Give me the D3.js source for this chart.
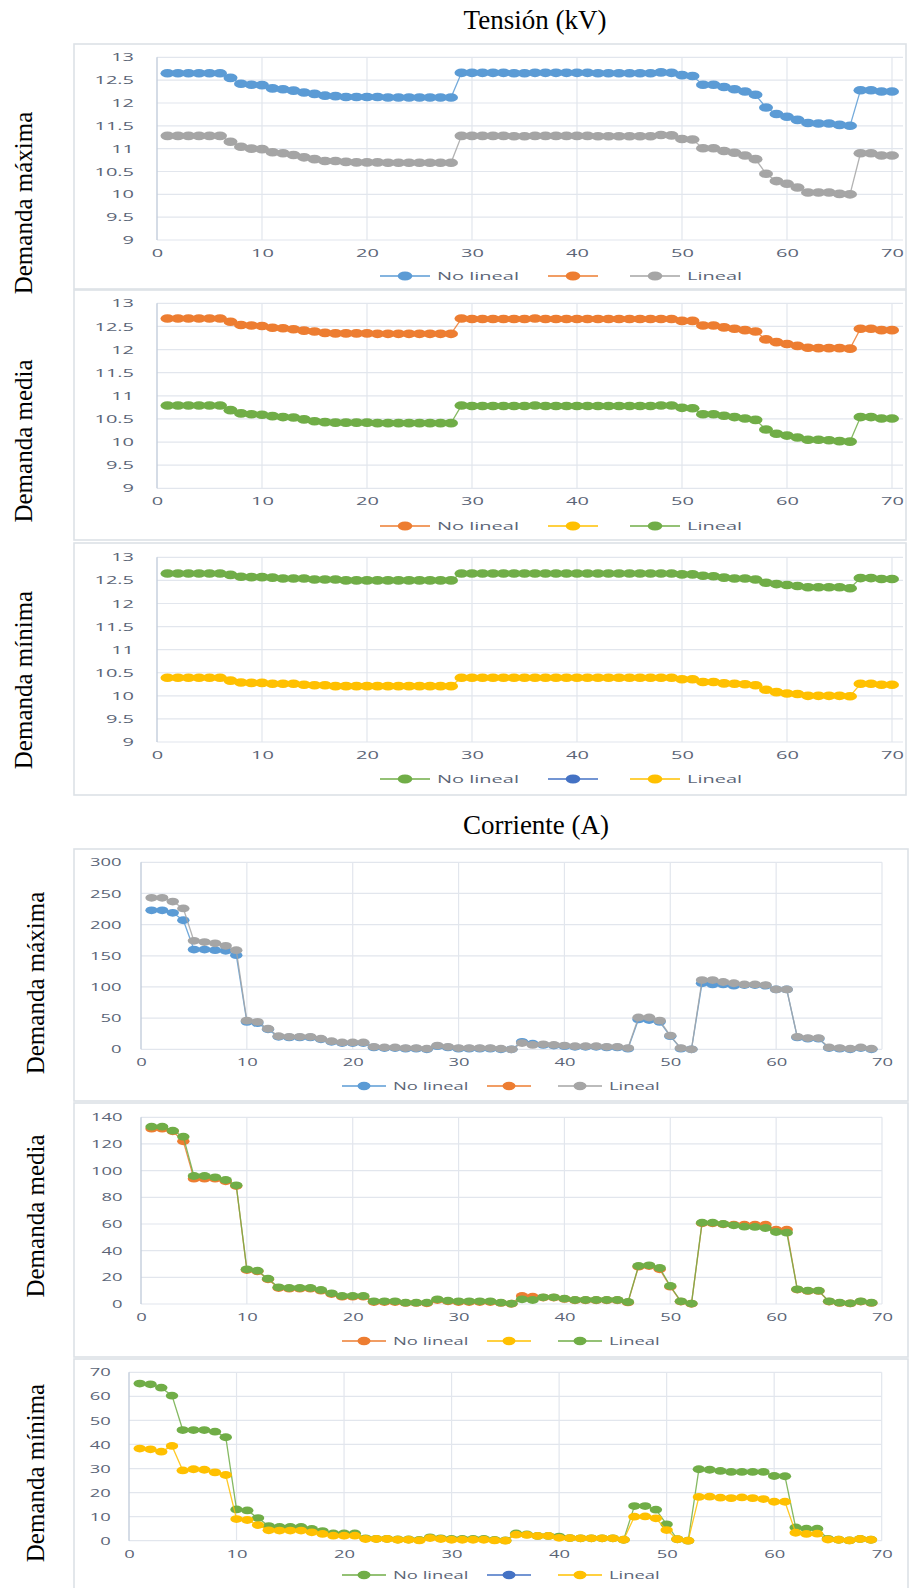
<!DOCTYPE html>
<html>
<head>
<meta charset="utf-8">
<script src="https://cdn.jsdelivr.net/npm/d3@7"></script>
<style>
  body { margin: 0; background: #ffffff; }
  svg { display: block; }
</style>
</head>
<body>
<svg id="chart" width="909" height="1588"></svg>
<script>
// ---------- Data: voltage (kV) per bus, 70 buses ----------
const tensionMaxNoLineal = [12.65,12.65,12.65,12.65,12.65,12.65,12.55,12.42,12.40,12.39,12.32,12.30,12.27,12.23,12.20,12.16,12.15,12.13,12.13,12.13,12.13,12.12,12.12,12.12,12.12,12.12,12.12,12.12,
  12.66,12.66,12.66,12.66,12.66,12.65,12.65,12.66,12.66,12.66,12.66,12.66,12.66,12.65,12.65,12.65,12.65,12.65,12.65,12.67,12.66,12.61,12.59,12.40,12.40,12.35,12.30,12.25,12.18,11.90,11.76,11.70,11.63,11.56,11.55,11.55,11.52,11.50,12.28,12.28,12.25,12.25];
const tensionMaxLineal = [11.28,11.28,11.28,11.28,11.28,11.28,11.15,11.04,11.00,10.99,10.92,10.90,10.86,10.81,10.77,10.73,10.73,10.71,10.70,10.70,10.70,10.69,10.69,10.69,10.69,10.69,10.69,10.69,
  11.28,11.28,11.28,11.28,11.28,11.27,11.27,11.28,11.28,11.28,11.28,11.28,11.28,11.27,11.27,11.27,11.27,11.27,11.27,11.30,11.29,11.21,11.20,11.01,11.01,10.95,10.91,10.85,10.77,10.45,10.29,10.23,10.15,10.04,10.04,10.04,10.01,10.00,10.90,10.90,10.85,10.85];

const tensionMedNoLineal = [12.67,12.67,12.67,12.67,12.67,12.67,12.60,12.53,12.52,12.51,12.47,12.46,12.44,12.41,12.39,12.36,12.35,12.35,12.35,12.35,12.34,12.34,12.34,12.34,12.34,12.34,12.34,12.34,
  12.67,12.66,12.66,12.66,12.66,12.66,12.66,12.67,12.66,12.66,12.66,12.66,12.66,12.66,12.66,12.66,12.66,12.66,12.66,12.66,12.66,12.62,12.62,12.52,12.52,12.48,12.45,12.42,12.39,12.22,12.16,12.12,12.08,12.04,12.03,12.03,12.03,12.02,12.45,12.45,12.42,12.42];
const tensionMedLineal = [10.79,10.79,10.79,10.79,10.79,10.79,10.69,10.62,10.60,10.59,10.56,10.54,10.53,10.49,10.45,10.43,10.42,10.42,10.42,10.42,10.41,10.41,10.41,10.41,10.41,10.41,10.41,10.41,
  10.79,10.78,10.78,10.78,10.78,10.78,10.78,10.79,10.78,10.78,10.78,10.78,10.78,10.78,10.78,10.78,10.78,10.78,10.78,10.79,10.79,10.74,10.73,10.60,10.60,10.57,10.54,10.51,10.48,10.27,10.18,10.14,10.10,10.05,10.05,10.04,10.02,10.01,10.54,10.54,10.51,10.51];

const tensionMinNoLineal = [12.65,12.65,12.65,12.65,12.65,12.65,12.62,12.58,12.57,12.57,12.56,12.54,12.54,12.54,12.52,12.52,12.52,12.50,12.50,12.50,12.50,12.50,12.50,12.50,12.50,12.50,12.50,12.50,
  12.65,12.65,12.65,12.65,12.65,12.65,12.65,12.65,12.65,12.65,12.65,12.65,12.65,12.65,12.65,12.65,12.65,12.65,12.65,12.65,12.65,12.63,12.63,12.60,12.59,12.56,12.54,12.54,12.52,12.45,12.42,12.40,12.38,12.35,12.35,12.35,12.35,12.33,12.55,12.55,12.53,12.53];
const tensionMinLineal = [10.39,10.39,10.39,10.39,10.39,10.39,10.33,10.29,10.28,10.28,10.26,10.26,10.26,10.24,10.23,10.23,10.21,10.21,10.21,10.21,10.21,10.21,10.21,10.21,10.21,10.21,10.21,10.21,
  10.39,10.39,10.39,10.39,10.39,10.39,10.39,10.39,10.39,10.39,10.39,10.39,10.39,10.39,10.39,10.39,10.39,10.39,10.39,10.39,10.39,10.36,10.36,10.30,10.30,10.27,10.26,10.25,10.23,10.13,10.08,10.05,10.04,10.00,10.00,10.00,10.00,9.99,10.26,10.26,10.24,10.24];

// ---------- Data: current (A) per branch, 69 branches ----------
const corrMaxNoLineal = [223,223,219,207,160,160,159,158,151, 44,42,32,20,19,19,19,16,12,10,10,10, 3,2,2,1,1,0,5,3,1,1,1,1,
  0,0,12,9,7,6,5,4,4,4,3,3,1, 48,47,44,21,1,0, 106,104,104,102,103,103,102,96,96, 19,17,17,2,1,0,2,0];
const corrMaxLineal = [243,243,237,226,174,172,170,166,159, 46,44,33,21,20,20,20,17,13,11,11,11, 4,3,3,2,2,1,6,4,2,2,2,2,
  1,0,10,7,8,7,6,5,5,5,4,4,2, 51,51,46,22,2,0, 111,111,108,106,104,104,103,96,96, 20,18,18,3,2,1,3,1];

const corrMedNoLineal = [131.5,131.5,129.5,122,94,94,94,92,88.5, 25.5,24.5,18.5,12,11.5,11.5,11.5,10,7.5,5.5,5.5,5.5, 1.5,1.5,1.5,0.8,0.8,0.5,3,2,1.5,1.5,1.5,1.5,
  0.8,0.2,6,5.5,4.8,4.8,3.8,2.8,2.8,2.8,2.8,2.8,1.2, 28,28.5,26,13,1.8,0.2, 60.5,60.5,59.8,59.5,59.5,59.5,59.5,55.7,55.7, 10.8,9.8,9.8,1.8,0.8,0.4,1.8,0.8];
const corrMedLineal = [133,133,130,125.5,96,96,95,93,89, 26,25,19,12.5,12,12,12,10.5,8,6,6,6, 2,2,2,1,1,1,3.5,2.5,2,2,2,2,
  1,0.3,3.5,3,5,5,4,3,3,3,3,3,1.5, 28.5,29,27,13.5,2,0.3, 61,61,60,59,58,57.8,57,54,53.5, 11,10,10,2,1,0.5,2,1];

const corrMinNoLineal = [65.3,65,63.6,60.3,46,46,46,45.3,43, 13,12.6,9.4,6.1,5.7,5.7,5.7,4.9,4,3,3,3, 1,0.8,0.8,0.5,0.5,0.3,1.4,1,0.7,0.7,0.7,0.7,
  0.3,0.1,3,2.6,2,2,1.7,1.1,1,1,1,1,0.4, 14.4,14.4,12.9,6.8,0.6,0, 29.7,29.5,29,28.6,28.6,28.6,28.6,26.9,26.8, 5.5,5,5,0.8,0.4,0.1,0.7,0.4];
const corrMinLineal = [38.3,38,37,39.4,29.2,29.7,29.5,28.4,27.3, 9,8.6,6.5,4.3,4.2,4.2,4.2,3.5,2.8,2.1,2.1,2.1, 0.7,0.7,0.7,0.4,0.4,0.1,1.1,0.7,0.4,0.4,0.4,0.4,
  0.1,0,2.5,2.4,2,2,1.2,1.1,1,1,1,1,0.4, 10,10.1,9.3,4.4,0.6,0, 18.2,18.3,17.9,17.7,18,17.7,17.3,16.2,16.2, 3.3,2.8,2.9,0.5,0.4,0.1,0.7,0.4];

// ---------- Tick labels ----------
const xTicks = [0,10,20,30,40,50,60,70];
const tensionTicks = [9,9.5,10,10.5,11,11.5,12,12.5,13];
const corrMaxTicks = [0,50,100,150,200,250,300];
const corrMedTicks = [0,20,40,60,80,100,120,140];
const corrMinTicks = [0,10,20,30,40,50,60,70];

// ---------- Series labels ----------
const labelNoLineal = "No lineal";
const labelLineal = "Lineal";

// ---------- Palette ----------
const C = {
  blue: "#5b9bd5", orange: "#ed7d31", gray: "#a5a5a5",
  yellow: "#ffc000", green: "#70ad47", navy: "#4472c4"
};
const tickColor = "#5b6577";
const gridColor = "#e2e6ed";

const svg = d3.select("#chart");

function drawPanel(p) {
  const g = svg.append("g");

  // panel frame
  g.append("rect")
    .attr("x", p.box[0]).attr("y", p.box[1])
    .attr("width", p.box[2] - p.box[0]).attr("height", p.box[3] - p.box[1])
    .attr("fill", "none").attr("stroke", "#dde1e7").attr("stroke-width", 1.6);

  const x = d3.scaleLinear().domain([0, 70]).range(p.xr);
  const y = d3.scaleLinear().domain(p.yd).range(p.yr);

  // gridlines
  g.selectAll(null).data(p.yTicks).join("line")
    .attr("x1", x(0)).attr("x2", p.gridRight)
    .attr("y1", d => y(d)).attr("y2", d => y(d))
    .attr("stroke", gridColor).attr("stroke-width", 1.2);
  g.selectAll(null).data(xTicks.filter(d => d > 0)).join("line")
    .attr("x1", d => x(d)).attr("x2", d => x(d))
    .attr("y1", y(p.yd[1])).attr("y2", y(p.yd[0]))
    .attr("stroke", gridColor).attr("stroke-width", 1.2);
  // value axis line
  g.append("line")
    .attr("x1", x(0)).attr("x2", x(0))
    .attr("y1", y(p.yd[1])).attr("y2", y(p.yd[0]))
    .attr("stroke", "#c3cddc").attr("stroke-width", 1.4);

  // value axis labels
  const ya = g.append("g").attr("transform", `translate(${x(0)},0)`)
    .call(d3.axisLeft(y).tickValues(p.yTicks).tickSize(0).tickPadding(0).tickFormat(d3.format("")));
  ya.select(".domain").remove();
  ya.selectAll("text")
    .attr("x", -p.yGap / p.sx).attr("dy", "0.36em")
    .attr("transform", `scale(${p.sx},1)`)
    .attr("fill", tickColor)
    .style("font-family", "'Open Sans', sans-serif").style("font-size", "10px");

  // category axis labels
  const xa = g.append("g").attr("transform", `translate(0,${y(p.yd[0])})`)
    .call(d3.axisBottom(x).tickValues(xTicks).tickSize(0).tickPadding(0).tickFormat(d3.format("")));
  xa.select(".domain").remove();
  xa.selectAll("text")
    .attr("y", p.xGap).attr("dy", "0.71em")
    .attr("transform", `scale(${p.sx},1)`)
    .attr("fill", tickColor)
    .style("font-family", "'Open Sans', sans-serif").style("font-size", "10px");

  // series: thin connecting line + elliptical markers
  const line = d3.line().x((d, i) => x(i + 1)).y(d => y(d));
  p.series.forEach(s => {
    if (!s.values) return;
    const sg = g.append("g");
    sg.append("path").datum(s.values)
      .attr("d", line).attr("fill", "none")
      .attr("stroke", s.color).attr("stroke-width", 1.3).attr("opacity", 0.85);
    sg.selectAll(null).data(s.values).join("ellipse")
      .attr("cx", (d, i) => x(i + 1)).attr("cy", d => y(d))
      .attr("rx", p.mrx).attr("ry", p.mry)
      .attr("fill", s.color);
  });

  // legend
  const lg = g.append("g").attr("transform", `translate(0,${p.legY})`);
  p.series.forEach((s, i) => {
    const x0 = p.legX[i];
    lg.append("line").attr("x1", x0).attr("x2", x0 + p.legLen)
      .attr("y1", 0).attr("y2", 0)
      .attr("stroke", s.color).attr("stroke-width", 1.3);
    lg.append("ellipse").attr("cx", x0 + p.legLen / 2).attr("cy", 0)
      .attr("rx", p.mrx + 0.3).attr("ry", p.mry + 0.3).attr("fill", s.color);
    if (s.label) {
      lg.append("text")
        .attr("transform", `translate(${x0 + p.legLen + 7},0) scale(${p.sx},1)`)
        .attr("dy", "0.36em")
        .attr("fill", tickColor)
        .style("font-family", "'Open Sans', sans-serif").style("font-size", "10px")
        .text(s.label);
    }
  });
}

// ---------- Voltage panels ----------
const tensionCommon = {
  xr: [157, 892], yd: [9, 13], yTicks: tensionTicks, gridRight: 903,
  yGap: 23, xGap: 10, sx: 2.0, mrx: 7, mry: 4.3,
  legX: [380, 548, 630], legLen: 50
};
drawPanel(Object.assign({}, tensionCommon, {
  box: [74, 44, 906, 289], yr: [240, 57.3], legY: 276,
  series: [
    { values: tensionMaxNoLineal, color: C.blue, label: labelNoLineal },
    { values: null, color: C.orange, label: "" },
    { values: tensionMaxLineal, color: C.gray, label: labelLineal }
  ]
}));
drawPanel(Object.assign({}, tensionCommon, {
  box: [74, 290, 906, 540], yr: [488.3, 303.3], legY: 526,
  series: [
    { values: tensionMedNoLineal, color: C.orange, label: labelNoLineal },
    { values: null, color: C.yellow, label: "" },
    { values: tensionMedLineal, color: C.green, label: labelLineal }
  ]
}));
drawPanel(Object.assign({}, tensionCommon, {
  box: [74, 543, 906, 795], yr: [742, 557.3], legY: 779,
  series: [
    { values: tensionMinNoLineal, color: C.green, label: labelNoLineal },
    { values: null, color: C.navy, label: "" },
    { values: tensionMinLineal, color: C.yellow, label: labelLineal }
  ]
}));

// ---------- Current panels ----------
const corrCommon = {
  xGap: 10, sx: 1.84, mrx: 6.2, mry: 3.9,
  legX: [342, 487, 558], legLen: 44
};
drawPanel(Object.assign({}, corrCommon, {
  box: [74, 849, 908, 1101], xr: [141, 882], gridRight: 882,
  yd: [0, 300], yr: [1049.3, 862.3], yTicks: corrMaxTicks, yGap: 19.5, legY: 1086,
  series: [
    { values: corrMaxNoLineal, color: C.blue, label: labelNoLineal },
    { values: null, color: C.orange, label: "" },
    { values: corrMaxLineal, color: C.gray, label: labelLineal }
  ]
}));
drawPanel(Object.assign({}, corrCommon, {
  box: [74, 1103, 908, 1357], xr: [141, 882], gridRight: 882,
  yd: [0, 140], yr: [1304, 1117.3], yTicks: corrMedTicks, yGap: 18.5, legY: 1341,
  series: [
    { values: corrMedNoLineal, color: C.orange, label: labelNoLineal },
    { values: null, color: C.yellow, label: "" },
    { values: corrMedLineal, color: C.green, label: labelLineal }
  ]
}));
drawPanel(Object.assign({}, corrCommon, {
  box: [74, 1359, 908, 1600], xr: [129, 881.7], gridRight: 881.7,
  yd: [0, 70], yr: [1540.7, 1372.3], yTicks: corrMinTicks, yGap: 18.3, legY: 1575,
  series: [
    { values: corrMinNoLineal, color: C.green, label: labelNoLineal },
    { values: null, color: C.navy, label: "" },
    { values: corrMinLineal, color: C.yellow, label: labelLineal }
  ]
}));

// ---------- Section titles and row labels ----------
const serif = "'Liberation Serif', 'Times New Roman', serif";
const titles = [
  { text: "Tensión (kV)", x: 535, y: 29 },
  { text: "Corriente (A)", x: 536, y: 834 }
];
svg.selectAll(null).data(titles).join("text")
  .attr("x", d => d.x).attr("y", d => d.y)
  .attr("text-anchor", "middle")
  .style("font-family", serif).style("font-size", "27px")
  .attr("fill", "#000")
  .text(d => d.text);

const rowLabels = [
  { text: "Demanda máxima", x: 32, y: 203 },
  { text: "Demanda media", x: 32, y: 441 },
  { text: "Demanda mínima", x: 32, y: 680 },
  { text: "Demanda máxima", x: 44, y: 983 },
  { text: "Demanda media", x: 44, y: 1216 },
  { text: "Demanda mínima", x: 44, y: 1473 }
];
svg.selectAll(null).data(rowLabels).join("text")
  .attr("transform", d => `translate(${d.x},${d.y}) rotate(-90)`)
  .attr("text-anchor", "middle")
  .style("font-family", serif).style("font-size", "25px")
  .attr("fill", "#000")
  .text(d => d.text);
</script>
</body>
</html>
